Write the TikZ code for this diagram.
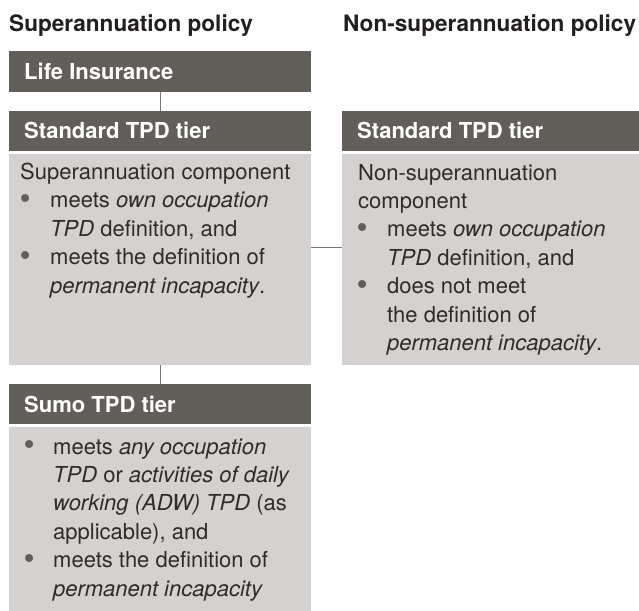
\documentclass[tikz,border=0pt]{standalone}
\usepackage{fontspec}
\setmainfont{TeX Gyre Heros}
\definecolor{hdr}{HTML}{625E5A}
\definecolor{bodybg}{HTML}{D5D1D0}
\definecolor{txt}{HTML}{2E2B2B}
\definecolor{ttl}{HTML}{231F20}
\definecolor{connc}{HTML}{7A7571}
\newcommand\bul{\textcolor{hdr}{\raisebox{-0.09em}{\scalebox{1.45}{\textbullet}}}}
\newcommand\itmL[2]{\makebox[#1][l]{\hspace*{#2}\bul}}
\begin{document}
\begin{tikzpicture}[x=1pt,y=-1pt,
  box/.style={draw=none, anchor=north west, inner sep=0pt, outer sep=0pt},
  hdrbox/.style={box, fill=hdr, minimum width=302pt, minimum height=40pt},
  bodybox/.style={box, fill=bodybg, minimum width=302pt},
  hdrtext/.style={anchor=base west, inner sep=0pt, text=white, font=\fontsize{22}{26}\selectfont\bfseries},
  titletext/.style={anchor=base west, inner sep=0pt, text=ttl, font=\fontsize{22.6}{27}\selectfont\bfseries},
  bodytext/.style={anchor=base west, inner sep=0pt, text=txt, align=left, font=\fontsize{22}{28.4}\selectfont},
  connline/.style={draw=connc, line width=1pt}]
\useasboundingbox (0,0) rectangle (639,610);

% titles
\node[titletext] (t1) at (9,32) {Superannuation policy};
\node[titletext] (t2) at (343,32) {Non-superannuation policy};

% left column
\node[hdrbox, minimum height=41pt] (life) at (9,51) {};
\node[hdrtext] (lifet) at (24,79) {Life Insurance};

\node[hdrbox] (stdL) at (9,111) {};
\node[hdrtext] (stdLt) at (24,138) {Standard TPD tier};

\node[bodybox, minimum height=211pt] (bodyL) at (9,154) {};
% anchored at the baseline of the last line
\node[bodytext] (bodyLt) at (20,293) {Superannuation component\\
\itmL{30pt}{-0.6pt}meets \textit{own occupation}\\
\hspace*{30pt}\textit{TPD} definition, and\\
\itmL{30pt}{-0.6pt}meets the definition of\\
\hspace*{30pt}\textit{permanent incapacity}.};

\node[hdrbox] (sumo) at (9,384) {};
\node[hdrtext] (sumot) at (24,412) {Sumo TPD tier};

\node[bodybox, minimum height=185pt] (bodyS) at (9,427) {};
\node[bodytext] (bodySt) at (20,596) {\itmL{33pt}{3.4pt}meets \textit{any occupation}\\
\hspace*{33pt}\textit{TPD} or \textit{activities of daily}\\
\hspace*{33pt}\textit{working (ADW) TPD} (as\\
\hspace*{33pt}applicable), and\\
\itmL{33pt}{3.4pt}meets the definition of\\
\hspace*{33pt}\textit{permanent incapacity}};

% right column
\node[hdrbox, minimum width=300pt] (stdR) at (342,111) {};
\node[hdrtext] (stdRt) at (357,138) {Standard TPD tier};

\node[bodybox, minimum width=300pt, minimum height=211pt] (bodyR) at (342,154) {};
\node[bodytext] (bodyRt) at (358,350.5) {Non-superannuation\\
component\\
\itmL{29pt}{-1.6pt}meets \textit{own occupation}\\
\hspace*{29pt}\textit{TPD} definition, and\\
\itmL{29pt}{-1.6pt}does not meet\\
\hspace*{29pt}the definition of\\
\hspace*{29pt}\textit{permanent incapacity}.};

% connectors
\draw[connline] (life.south) -- (stdL.north);
\draw[connline] (bodyL.south) -- (sumo.north);
\draw[connline] (bodyL.east |- 0,247) -- (bodyR.west |- 0,247);
\end{tikzpicture}
\end{document}
